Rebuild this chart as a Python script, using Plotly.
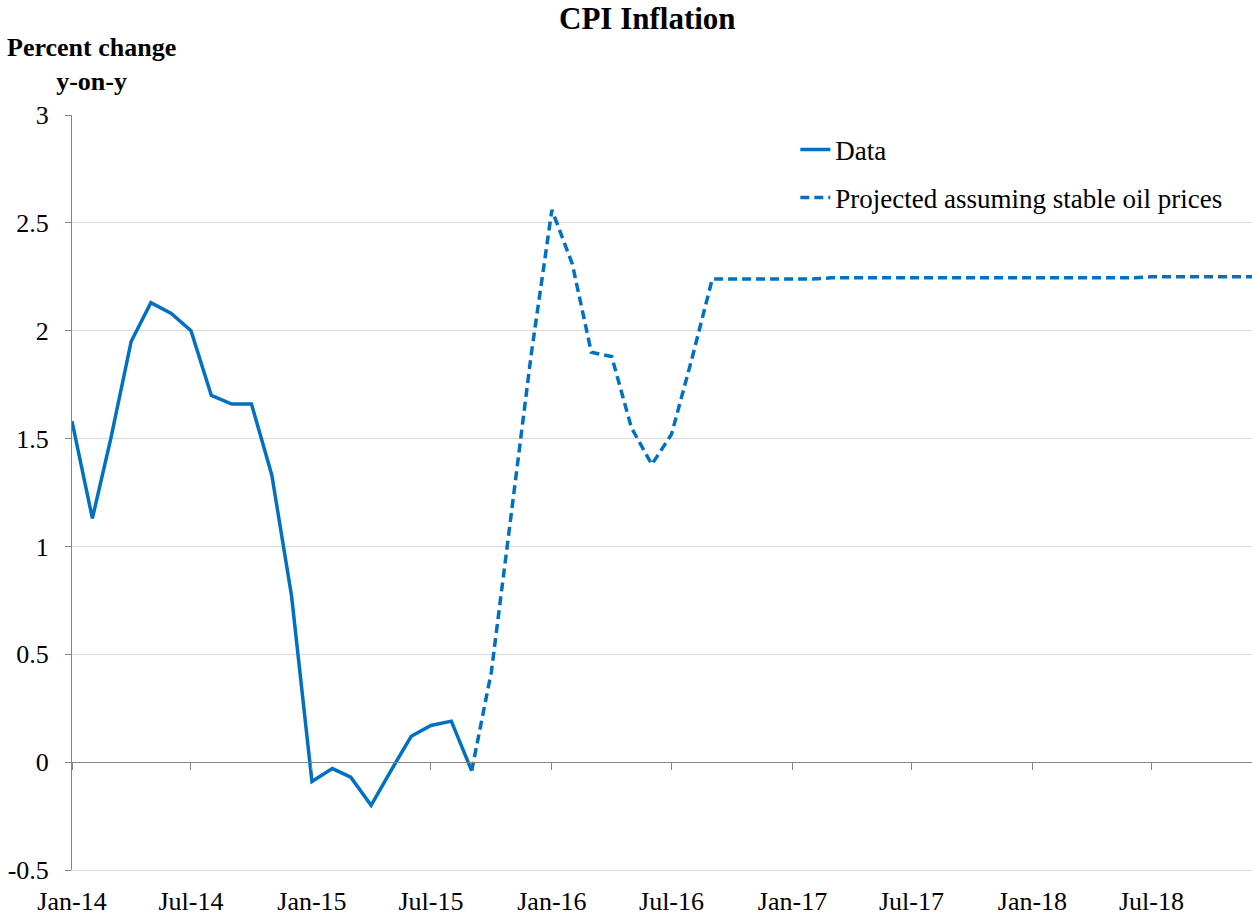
import plotly.graph_objects as go
import pandas as pd

# monthly axis, Jan-2014 .. Dec-2018
months = pd.date_range("2014-01-01", "2018-12-01", freq="MS")

# CPI, percent change y-on-y (Jan-14 .. Sep-15)
cpi_data = [1.58, 1.13, 1.50, 1.95, 2.13, 2.08, 2.00, 1.70, 1.66, 1.66, 1.33, 0.77,
            -0.09, -0.03, -0.07, -0.20, -0.04, 0.12, 0.17, 0.19, -0.04]

# projection assuming stable oil prices (Sep-15 .. Dec-18)
cpi_proj = [-0.04, 0.42, 1.17, 1.90,
            2.56, 2.31, 1.90, 1.88, 1.55, 1.38, 1.52, 1.87, 2.24, 2.24, 2.24, 2.24,
            2.24, 2.24, 2.245, 2.245, 2.245, 2.245, 2.245, 2.245, 2.245, 2.245, 2.245, 2.245,
            2.245, 2.245, 2.245, 2.245, 2.245, 2.245, 2.25, 2.25, 2.25, 2.25, 2.25, 2.25]

y_ticks = [-0.5, 0, 0.5, 1, 1.5, 2, 2.5, 3]
y_tick_labels = ["-0.5", "0", "0.5", "1", "1.5", "2", "2.5", "3"]

BLUE = "#0070C0"
FONT = "Liberation Serif"

fig = go.Figure()
fig.add_trace(go.Scatter(
    x=months[:len(cpi_data)], y=cpi_data, mode="lines", name="Data",
    line=dict(color=BLUE, width=3.5), legend="legend"
))
fig.add_trace(go.Scatter(
    x=months[len(cpi_data) - 1:], y=cpi_proj, mode="lines",
    name="Projected assuming stable oil prices",
    line=dict(color=BLUE, width=3.5, dash="9px,5px"), legend="legend2",
    xaxis="x2"
))

x_range = [months[0], months[-1]]
fig.update_layout(
    width=1252, height=916,
    margin=dict(l=72, r=0, t=115, b=46),
    plot_bgcolor="white", paper_bgcolor="white",
    font=dict(family=FONT, size=26, color="black"),
    title=dict(text="<b>CPI Inflation</b>", x=0.517, xanchor="center",
               y=0.98, yref="container", yanchor="middle",
               font=dict(family=FONT, size=31, color="black")),
    xaxis=dict(range=x_range, type="date", dtick="M6", tick0="2014-01-01",
               tickformat="%b-%y", showgrid=False, zeroline=False,
               showline=True, linecolor="#D9D9D9", linewidth=1,
               ticks="", ticklabelstandoff=8,
               tickfont=dict(family=FONT, size=26, color="black")),
    # second x axis only draws the axis line + tick marks at y = 0
    xaxis2=dict(range=x_range, type="date", dtick="M6", tick0="2014-01-01",
                overlaying="x", anchor="free", position=0.5 / 3.5,
                showgrid=False, zeroline=False, showticklabels=False,
                showline=True, linecolor="#868686", linewidth=1,
                ticks="outside", ticklen=7, tickcolor="#868686"),
    yaxis=dict(range=[-0.5, 3], tickvals=y_ticks, ticktext=y_tick_labels,
               showgrid=True, gridcolor="#D9D9D9", gridwidth=1, zeroline=False,
               showline=True, linecolor="#868686", linewidth=1,
               ticks="outside", ticklen=6, tickcolor="#868686",
               ticklabelstandoff=11,
               tickfont=dict(family=FONT, size=26, color="black")),
    legend=dict(x=0.613, y=(870 - 150) / 755, xanchor="left", yanchor="middle",
                bgcolor="rgba(0,0,0,0)", font=dict(family=FONT, size=27)),
    legend2=dict(x=0.613, y=(870 - 198) / 755, xanchor="left", yanchor="middle",
                 bgcolor="rgba(0,0,0,0)", font=dict(family=FONT, size=27)),
    showlegend=True,
)

fig.add_annotation(
    text="<b>Percent change<br>y-on-y</b>", xref="paper", yref="paper",
    x=(91 - 72) / 1180, y=(870 - 64) / 755, xanchor="center", yanchor="middle",
    showarrow=False, font=dict(family=FONT, size=26, color="black")
)

# drop the browser's default body margin so the figure sits at the page corner
fig.write_html("out.html", config={"displayModeBar": False},
               post_script="document.body.style.margin = '0';")
